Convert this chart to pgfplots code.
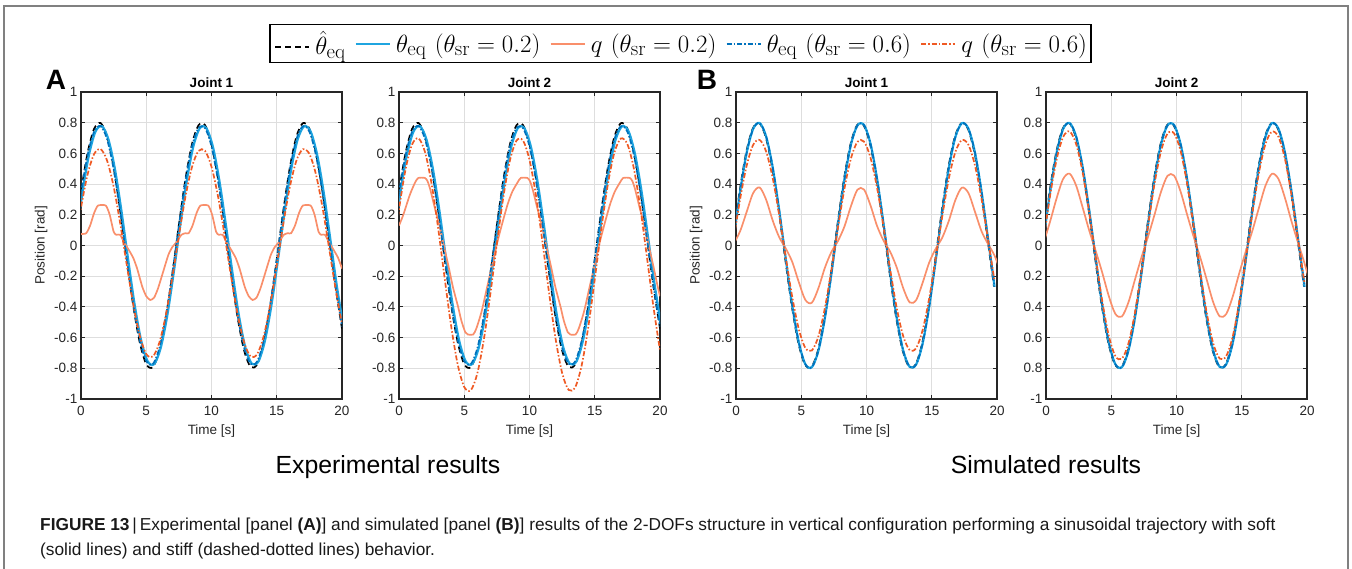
\documentclass[border=0pt]{standalone}
\usepackage[no-math]{fontspec}
\setmainfont{Liberation Sans}
\usepackage{pgfplots}
\usepackage{pgfplotstable}
\pgfplotsset{compat=1.18}

\definecolor{cyanc}{HTML}{1FA5E0}
\definecolor{mblue}{HTML}{0072BD}
\definecolor{qsoft}{HTML}{F98F6B}
\definecolor{qstiff}{HTML}{EF5A24}
\definecolor{axc}{HTML}{262626}
\definecolor{gridc}{HTML}{DEDEDE}
\definecolor{framec}{HTML}{808080}

% shared sinusoid samples; ta/tac = panel A times, tb/tbc = panel B times
\pgfplotstableread{
ta tac tb tbc s80 s78 qa1 qa2 qb1 qb2 sb1 sb2
-0.5 -0.4 -0.23 -0.19 0.040 0.039 -0.016 -0.084 0.035 0.037 0.009 0.016
0.0 0.1 0.27 0.31 0.348 0.339 0.246 0.234 0.300 0.324 0.092 0.155
0.5 0.6 0.77 0.81 0.601 0.586 0.461 0.495 0.518 0.559 0.217 0.307
1.0 1.1 1.27 1.31 0.759 0.740 0.595 0.658 0.655 0.707 0.341 0.433
1.5 1.6 1.77 1.81 0.798 0.778 0.628 0.698 0.688 0.743 0.378 0.468
2.0 2.1 2.27 2.31 0.710 0.692 0.553 0.607 0.612 0.661 0.298 0.390
2.5 2.6 2.77 2.81 0.510 0.498 0.384 0.401 0.440 0.475 0.163 0.247
3.0 3.1 3.27 3.31 0.230 0.225 0.146 0.113 0.199 0.215 0.054 0.098
3.5 3.6 3.77 3.81 -0.086 -0.084 -0.123 -0.214 -0.075 -0.080 -0.019 -0.036
4.0 4.1 4.27 4.31 -0.390 -0.380 -0.381 -0.527 -0.336 -0.363 -0.107 -0.177
4.5 4.6 4.77 4.81 -0.631 -0.615 -0.587 -0.776 -0.544 -0.588 -0.238 -0.329
5.0 5.1 5.27 5.31 -0.773 -0.753 -0.707 -0.922 -0.667 -0.720 -0.354 -0.445
5.5 5.6 5.77 5.81 -0.793 -0.773 -0.724 -0.943 -0.684 -0.738 -0.373 -0.463
6.0 6.1 6.27 6.31 -0.687 -0.670 -0.634 -0.834 -0.593 -0.640 -0.279 -0.372
6.5 6.6 6.77 6.81 -0.474 -0.462 -0.453 -0.613 -0.408 -0.441 -0.145 -0.224
7.0 7.1 7.27 7.31 -0.185 -0.180 -0.207 -0.316 -0.159 -0.172 -0.042 -0.078
7.5 7.6 7.77 7.81 0.133 0.129 0.063 0.012 0.115 0.124 0.029 0.055
8.0 8.1 8.27 8.31 0.430 0.419 0.315 0.318 0.371 0.400 0.124 0.199
8.5 8.6 8.77 8.81 0.658 0.642 0.510 0.554 0.568 0.613 0.257 0.349
9.0 9.1 9.27 9.31 0.783 0.764 0.616 0.683 0.676 0.729 0.364 0.454
9.5 9.6 9.77 9.81 0.785 0.765 0.617 0.684 0.677 0.731 0.365 0.456
10.0 10.1 10.27 10.31 0.662 0.646 0.513 0.558 0.571 0.617 0.260 0.352
10.5 10.6 10.77 10.81 0.435 0.424 0.320 0.324 0.375 0.405 0.127 0.202
11.0 11.1 11.27 11.31 0.139 0.136 0.068 0.019 0.120 0.130 0.031 0.058
11.5 11.6 11.77 11.81 -0.178 -0.174 -0.202 -0.309 -0.154 -0.166 -0.040 -0.075
12.0 12.1 12.27 12.31 -0.468 -0.456 -0.448 -0.608 -0.404 -0.436 -0.142 -0.221
12.5 12.6 12.77 12.81 -0.684 -0.667 -0.631 -0.830 -0.590 -0.637 -0.277 -0.369
13.0 13.1 13.27 13.31 -0.791 -0.771 -0.723 -0.941 -0.682 -0.737 -0.371 -0.462
13.5 13.6 13.77 13.81 -0.774 -0.755 -0.708 -0.924 -0.668 -0.721 -0.355 -0.446
14.0 14.1 14.27 14.31 -0.635 -0.619 -0.590 -0.780 -0.548 -0.592 -0.240 -0.332
14.5 14.6 14.77 14.81 -0.395 -0.385 -0.386 -0.533 -0.341 -0.368 -0.110 -0.180
15.0 15.1 15.27 15.31 -0.093 -0.090 -0.129 -0.221 -0.080 -0.086 -0.020 -0.038
15.5 15.6 15.77 15.81 0.224 0.218 0.140 0.106 0.193 0.209 0.052 0.095
16.0 16.1 16.27 16.31 0.506 0.493 0.380 0.396 0.436 0.471 0.161 0.244
16.5 16.6 16.77 16.81 0.707 0.690 0.551 0.604 0.610 0.659 0.296 0.388
17.0 17.1 17.27 17.31 0.797 0.777 0.627 0.697 0.687 0.742 0.377 0.467
17.5 17.6 17.77 17.81 0.761 0.742 0.597 0.660 0.656 0.708 0.342 0.434
18.0 18.1 18.27 18.31 0.606 0.590 0.465 0.500 0.522 0.564 0.220 0.310
18.5 18.6 18.77 18.81 0.354 0.345 0.251 0.240 0.305 0.329 0.094 0.158
19.0 19.1 19.27 19.31 0.046 0.045 -0.011 -0.077 0.040 0.043 0.010 0.019
19.5 19.6 19.77 19.81 -0.268 -0.261 -0.278 -0.401 -0.231 -0.250 -0.065 -0.116
20.0 20.1 20.27 20.31 -0.541 -0.527 -0.510 -0.683 -0.466 -0.504 -0.180 -0.266
}\tbl

% line styles, usable both in \addplot and in plain \draw
\tikzset{
  refblack/.style={draw=black, line width=1.7pt, dash pattern=on 6pt off 4pt},
  softeq/.style={draw=cyanc, line width=2.2pt},
  softq/.style={draw=qsoft, line width=1.7pt},
  stiffeq/.style={draw=mblue, line width=1.7pt, dash pattern=on 5pt off 2pt on 1.5pt off 2pt},
  stiffq/.style={draw=qstiff, line width=1.7pt, dash pattern=on 5pt off 2pt on 1.5pt off 2pt},
}
% legend key: a short sample line set in front of the entry text
\newcommand\key[1]{\tikz[baseline=-0.5ex]\draw[#1, line width=2.4pt] (0pt,0pt) -- (34pt,0pt);\,}

\pgfplotsset{
  panel/.style={
    anchor=south west, scale only axis, width=261pt, height=307pt,
    xmin=0, xmax=20, ymin=-1, ymax=1,
    xtick={0,5,10,15,20},
    ytick={-1,-0.8,-0.6,-0.4,-0.2,0,0.2,0.4,0.6,0.8,1},
    grid=major, grid style={color=gridc, line width=1pt},
    axis line style={color=axc, line width=1.3pt},
    tick style={color=axc, line width=1pt},
    tick align=inside, major tick length=4pt,
    ticklabel style={font=\fontsize{13.5}{15}\selectfont, color=axc},
    xticklabel style={yshift=-4pt},
    /pgf/number format/assume math mode=true,
    yticklabel style={/pgf/number format/fixed, /pgf/number format/precision=1},
    xlabel={Time [s]},
    label style={font=\fontsize{13.5}{15}\selectfont, color=axc},
    xlabel style={yshift=-2pt},
    title style={font=\bfseries\fontsize{13.5}{15}\selectfont, yshift=-5.5pt},
  },
}

\begin{document}
\begin{tikzpicture}
\path[use as bounding box] (0pt,0pt) rectangle (1352pt,569pt);
\draw[framec, line width=1.3pt] (4pt,-3pt) -- (4pt,563pt) -- (1348pt,563pt) -- (1348pt,-3pt);

% A, joint 1 (carries the legend)
\begin{axis}[panel, at={(81pt,170pt)}, title={Joint 1}, ylabel={Position [rad]},
  legend image code/.code={},
  legend style={at={(2.297,1.158)}, anchor=center, legend columns=5,
    draw=black, line width=1.5pt, font=\fontsize{30}{33}\selectfont,
    inner xsep=2pt, inner ysep=4.5pt,
    /tikz/every even column/.append style={column sep=5pt}},
]
\addplot[refblack, smooth] table[x=ta, y=s80] {\tbl};
\addlegendentry{\key{refblack}$\hat{\theta}_{\mathrm{eq}}$}
\addplot[softeq, smooth] table[x=tac, y=s78] {\tbl};
\addlegendentry{\key{softeq}$\theta_{\mathrm{eq}}\ (\theta_{\mathrm{sr}}=0.2)$}
\addplot[softq, smooth, tension=0.35] coordinates {
(0,0.075) (0.4,0.08) (0.7,0.13) (1.0,0.21) (1.3,0.26) (1.9,0.26) (2.2,0.20) (2.5,0.09) (2.7,0.07) (3.0,0.07) (3.3,0.02) (3.6,-0.02) (4.0,-0.08) (4.3,-0.15) (4.7,-0.27) (5.0,-0.33) (5.3,-0.355) (5.6,-0.34) (5.9,-0.28) (6.3,-0.17) (6.7,-0.06) (7.0,-0.01) (7.3,0.02) (7.7,0.07) (8.0,0.08)
(8.25,0.08) (8.55,0.13) (8.85,0.21) (9.15,0.26) (9.75,0.26) (10.05,0.20) (10.35,0.09) (10.55,0.07) (10.85,0.07) (11.15,0.02) (11.45,-0.02) (11.85,-0.08) (12.15,-0.15) (12.55,-0.27) (12.85,-0.33) (13.15,-0.355) (13.45,-0.34) (13.75,-0.28) (14.15,-0.17) (14.55,-0.06) (14.85,-0.01) (15.15,0.02) (15.55,0.07) (15.85,0.08)
(16.1,0.08) (16.4,0.13) (16.7,0.21) (17.0,0.26) (17.6,0.26) (17.9,0.20) (18.2,0.09) (18.4,0.07) (18.7,0.07) (19.0,0.02) (19.3,-0.02) (19.7,-0.08) (20.0,-0.15)
};
\addlegendentry{\key{softq}$q\ (\theta_{\mathrm{sr}}=0.2)$}
\addplot[stiffeq, smooth] table[x=ta, y=s78] {\tbl};
\addlegendentry{\key{stiffeq}$\theta_{\mathrm{eq}}\ (\theta_{\mathrm{sr}}=0.6)$}
\addplot[stiffq, smooth] table[x=ta, y=qa1] {\tbl};
\addlegendentry{\key{stiffq}$q\ (\theta_{\mathrm{sr}}=0.6)$}
\end{axis}

% A, joint 2
\begin{axis}[panel, at={(399pt,170pt)}, title={Joint 2}]
\addplot[refblack, smooth] table[x=ta, y=s80] {\tbl};
\addplot[softeq, smooth] table[x=tac, y=s78] {\tbl};
\addplot[softq, smooth, tension=0.4] coordinates {
(0,0.13) (0.33,0.20) (0.83,0.33) (1.23,0.41) (1.48,0.44) (1.98,0.44) (2.18,0.42) (2.38,0.37) (2.73,0.25) (3.13,0.12) (3.43,0.0) (3.78,-0.13) (4.13,-0.27) (4.53,-0.40) (4.78,-0.49) (5.08,-0.565) (5.28,-0.58) (5.68,-0.58) (5.93,-0.54) (6.33,-0.43) (6.73,-0.28) (7.13,-0.13) (7.53,0.02) (7.93,0.15) (8.33,0.27) (8.68,0.35) (9.08,0.41)
(9.33,0.44) (9.83,0.44) (10.03,0.42) (10.23,0.37) (10.58,0.25) (10.98,0.12) (11.28,0.0) (11.63,-0.13) (11.98,-0.27) (12.38,-0.40) (12.63,-0.49) (12.93,-0.565) (13.13,-0.58) (13.53,-0.58) (13.78,-0.54) (14.18,-0.43) (14.58,-0.28) (14.98,-0.13) (15.38,0.02) (15.78,0.15) (16.18,0.27) (16.53,0.35) (16.93,0.41)
(17.18,0.44) (17.68,0.44) (17.88,0.42) (18.08,0.37) (18.43,0.25) (18.83,0.12) (19.13,0.0) (19.48,-0.13) (19.83,-0.27) (20.0,-0.33)
};
\addplot[stiffeq, smooth] table[x=ta, y=s78] {\tbl};
\addplot[stiffq, smooth] table[x=ta, y=qa2] {\tbl};
\end{axis}

% B, joint 1
\begin{axis}[panel, at={(736pt,170pt)}, title={Joint 1}, ylabel={Position [rad]}]
\addplot[refblack, smooth, restrict x to domain=-1:19.85] table[x=tb, y=s80] {\tbl};
\addplot[softeq, smooth, restrict x to domain=-1:19.85] table[x=tbc, y=s80] {\tbl};
\addplot[softq, smooth] table[x=tbc, y=sb1] {\tbl};
\addplot[stiffeq, smooth, restrict x to domain=-1:19.85] table[x=tbc, y=s80] {\tbl};
\addplot[stiffq, smooth, restrict x to domain=-1:19.85] table[x=tbc, y=qb1] {\tbl};
\end{axis}

% B, joint 2
\begin{axis}[panel, at={(1046pt,170pt)}, title={Joint 2},
  yticklabels={-1,0.8,0.6,0.4,0.2,0,0.2,0.4,0.6,0.8,1}]
\addplot[refblack, smooth, restrict x to domain=-1:19.85] table[x=tb, y=s80] {\tbl};
\addplot[softeq, smooth, restrict x to domain=-1:19.85] table[x=tbc, y=s80] {\tbl};
\addplot[softq, smooth] table[x=tbc, y=sb2] {\tbl};
\addplot[stiffeq, smooth, restrict x to domain=-1:19.85] table[x=tbc, y=s80] {\tbl};
\addplot[stiffq, smooth, restrict x to domain=-1:19.85] table[x=tbc, y=qb2] {\tbl};
\end{axis}

\node[font=\bfseries\fontsize{28}{30}\selectfont] at (56pt,489pt) {A};
\node[font=\bfseries\fontsize{28}{30}\selectfont] at (707pt,489pt) {B};
\node[anchor=base, font=\fontsize{24.8}{27}\selectfont] at (388pt,95pt) {Experimental results};
\node[anchor=base, font=\fontsize{24.8}{27}\selectfont] at (1046pt,95pt) {Simulated results};
\node[anchor=base west, inner sep=0pt, font=\fontsize{17.3}{20}\selectfont, color=black!90] at (40pt,38pt)
  {\textbf{FIGURE 13}\,|\,Experimental [panel \textbf{(A)}] and simulated [panel \textbf{(B)}] results of the 2-DOFs structure in vertical configuration performing a sinusoidal trajectory with soft};
\node[anchor=base west, inner sep=0pt, font=\fontsize{17.3}{20}\selectfont, color=black!90] at (40pt,13pt)
  {(solid lines) and stiff (dashed-dotted lines) behavior.};
\end{tikzpicture}
\end{document}
